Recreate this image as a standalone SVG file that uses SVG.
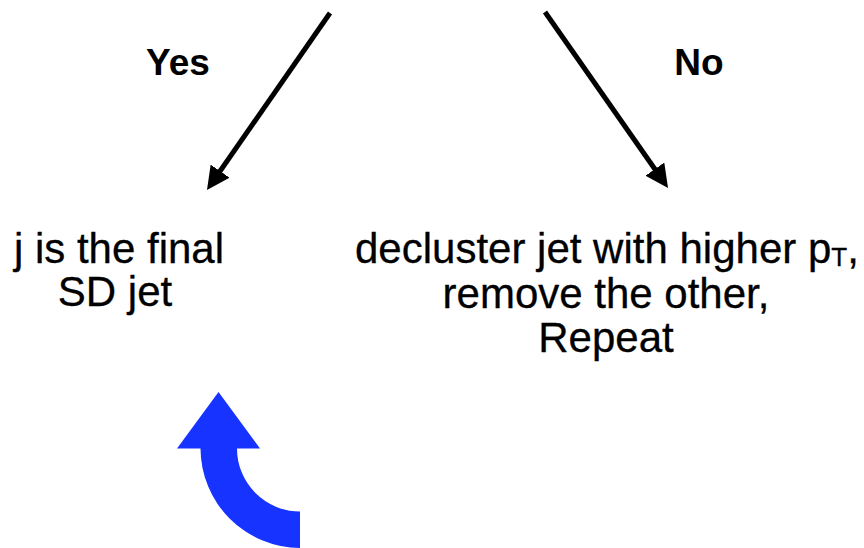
<svg xmlns="http://www.w3.org/2000/svg" width="864" height="548" viewBox="0 0 864 548">
  <style>
    .label { font-family: "Liberation Sans", Arial, Helvetica, sans-serif; fill: #000; }
    .branch { font-size: 37px; font-weight: bold; text-anchor: middle; }
    .body { font-size: 42px; stroke: #000; stroke-width: 0.3px; }
    .mid { text-anchor: middle; }
    .edge { stroke: #000; stroke-width: 5; fill: none; }
  </style>
  <defs>
    <marker id="head" viewBox="0 0 23 23" refX="13" refY="11.5" markerWidth="23" markerHeight="23" markerUnits="userSpaceOnUse" orient="auto">
      <path d="M0,0 L23,11.5 L0,23 Z" fill="#000"/>
    </marker>
  </defs>

  <rect width="864" height="548" fill="#fff"/>

  <!-- branch connectors -->
  <g id="connectors">
    <line class="edge" x1="330" y1="13" x2="212.7" y2="181.8" marker-end="url(#head)"/>
    <line class="edge" x1="545" y1="12" x2="662.3" y2="179.8" marker-end="url(#head)"/>
  </g>

  <!-- branch labels -->
  <g id="label-yes">
    <text class="label branch" x="178" y="75">Yes</text>
  </g>
  <g id="label-no">
    <text class="label branch" x="699" y="75">No</text>
  </g>

  <!-- outcome: stop -->
  <g id="node-final">
    <text class="label body mid" x="119" y="263">j is the final</text>
    <text class="label body mid" x="115" y="306">SD jet</text>
  </g>

  <!-- outcome: continue -->
  <g id="node-decluster">
    <text class="label body" x="355" y="263">decluster jet with higher p<tspan font-size="26" dy="3">T</tspan><tspan dy="-3">,</tspan></text>
    <text class="label body mid" x="606" y="308">remove the other,</text>
    <text class="label body mid" x="606" y="352">Repeat</text>
  </g>

  <!-- loop-back arrow -->
  <g id="loop-arrow">
    <path d="M218.5,392 L260,448.5 L237,448.5 A63,63 0 0 0 300,511.5 L300,548 A100,100 0 0 1 200.5,448.5 L177,448.5 Z" fill="#1733FF"/>
  </g>
</svg>
